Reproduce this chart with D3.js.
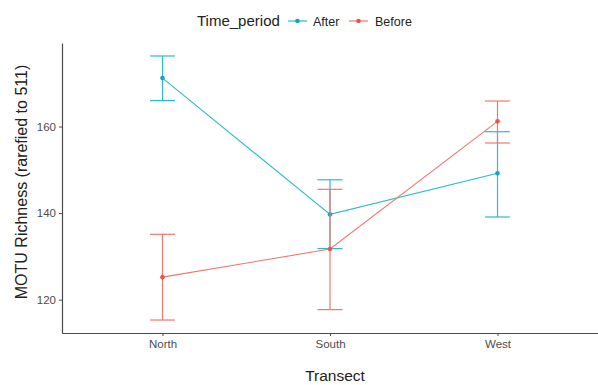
<!DOCTYPE html>
<html>
<head>
<meta charset="utf-8">
<script src="https://cdn.jsdelivr.net/npm/d3@7"></script>
<style>
  body { margin: 0; background: #fff; }
  text { font-family: "Liberation Sans", Arial, sans-serif; }
</style>
</head>
<body>
<div class="chart"></div>
<script>
let transects = ['North', 'South', 'West'];
let periods = ['After', 'Before'];
let afterMean = [171.2, 139.7, 149.2];
let afterLow = [166.0, 131.8, 139.1];
let afterHigh = [176.3, 147.7, 158.8];
let beforeMean = [125.2, 131.7, 161.2];
let beforeLow = [115.3, 117.7, 156.2];
let beforeHigh = [135.1, 145.5, 165.9];
let yTicks = [120, 140, 160];

function drawChart() {
    let svg = d3.select('.chart')
        .append('svg')
        .attr('width', 598)
        .attr('height', 385);
    let margin = {top: 43, right: 0, bottom: 52, left: 62};
    let width = 598 - margin.left - margin.right;
    let height = 385 - margin.top - margin.bottom;

    let x = d3.scalePoint().domain(transects).range([0, width]).padding(0.6);
    let y = d3.scaleLinear().domain([112.3, 179.3]).range([height, 0]);
    let color = d3.scaleOrdinal().domain(periods).range(['#2bbcc8', '#f0776c']);

    let series = [
        {name: 'After', mean: afterMean, low: afterLow, high: afterHigh},
        {name: 'Before', mean: beforeMean, low: beforeLow, high: beforeHigh}
    ];

    let g = svg.append('g')
        .attr('transform', 'translate(' + margin.left + ',' + margin.top + ')');

    // axes
    let xAxis = g.append('g')
        .attr('transform', 'translate(0,' + height + ')')
        .call(d3.axisBottom(x).tickSizeInner(3).tickSizeOuter(0).tickPadding(4));
    let yAxis = g.append('g')
        .call(d3.axisLeft(y).tickValues(yTicks).tickSizeInner(3).tickSizeOuter(0).tickPadding(3));
    [xAxis, yAxis].forEach(a => {
        a.select('.domain').attr('stroke', '#4a4a4a').attr('stroke-width', 1.2);
        a.selectAll('.tick line').attr('stroke', '#4a4a4a');
        a.selectAll('.tick text')
            .attr('fill', '#4d4d4d')
            .style('font-size', '11.5px');
    });

    series.forEach(s => {
        let c = color(s.name);
        let pts = transects.map((t, i) => ({t: t, m: s.mean[i], lo: s.low[i], hi: s.high[i]}));
        g.append('path')
            .datum(pts)
            .attr('fill', 'none')
            .attr('stroke', c)
            .attr('stroke-width', 1.1)
            .attr('d', d3.line().x(d => x(d.t)).y(d => y(d.m)));
        let eb = g.selectAll('.eb-' + s.name)
            .data(pts)
            .enter().append('g')
            .attr('class', 'eb-' + s.name);
        eb.append('line')
            .attr('x1', d => x(d.t)).attr('x2', d => x(d.t))
            .attr('y1', d => y(d.lo)).attr('y2', d => y(d.hi))
            .attr('stroke', c).attr('stroke-width', 1.2);
        [d => d.lo, d => d.hi].forEach(f => {
            eb.append('line')
                .attr('x1', d => x(d.t) - 12.5).attr('x2', d => x(d.t) + 12.5)
                .attr('y1', d => y(f(d))).attr('y2', d => y(f(d)))
                .attr('stroke', c).attr('stroke-width', 1.2);
        });
        eb.append('circle')
            .attr('cx', d => x(d.t))
            .attr('cy', d => y(d.m))
            .attr('r', 2.3)
            .attr('fill', s.name === 'After' ? '#1a9fc8' : '#e8574c');
    });

    // axis titles
    svg.append('text')
        .attr('x', 335)
        .attr('y', 381)
        .attr('text-anchor', 'middle')
        .attr('fill', '#222')
        .style('font-size', '15.5px')
        .text('Transect');
    svg.append('text')
        .attr('transform', 'translate(27,182) rotate(-90)')
        .attr('text-anchor', 'middle')
        .attr('fill', '#222')
        .style('font-size', '16px')
        .text('MOTU Richness (rarefied to 511)');

    // legend
    let legend = svg.append('g');
    legend.append('text')
        .attr('x', 197).attr('y', 26)
        .attr('fill', '#222')
        .style('font-size', '15px')
        .text('Time_period');
    let keyX = [288, 349];
    let labX = [313, 375];
    periods.forEach((p, i) => {
        legend.append('line')
            .attr('x1', keyX[i]).attr('x2', keyX[i] + 19)
            .attr('y1', 21).attr('y2', 21)
            .attr('stroke', color(p)).attr('stroke-width', 1.2);
        legend.append('circle')
            .attr('cx', keyX[i] + 9.5).attr('cy', 21).attr('r', 2.3)
            .attr('fill', p === 'After' ? '#1a9fc8' : '#e8574c');
        legend.append('text')
            .attr('x', labX[i]).attr('y', 25.5)
            .attr('fill', '#222')
            .style('font-size', '12.5px')
            .text(p);
    });
}

drawChart();
</script>
</body>
</html>
